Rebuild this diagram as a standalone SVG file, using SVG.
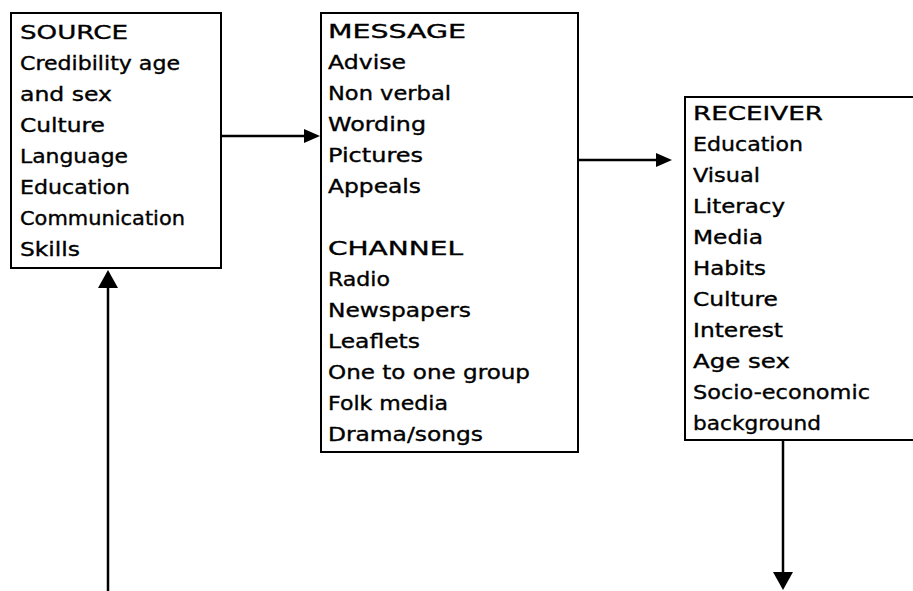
<svg xmlns="http://www.w3.org/2000/svg" width="913" height="591" viewBox="0 0 913 591">
<style>
.box{fill:#fff;stroke:#000;stroke-width:2}
.t{font-family:"DejaVu Sans","Liberation Sans",sans-serif;font-size:19px;fill:#000;stroke:#000;stroke-width:0.35}
.ln{stroke:#000;stroke-width:2.5;fill:none}
.ah{fill:#000}
</style>
<rect width="913" height="591" fill="#fff"/>
<g id="connectors">
<line class="ln" x1="222" y1="136" x2="306" y2="136"/>
<polygon class="ah" points="320,136 304,129 304,143"/>
<line class="ln" x1="578" y1="160" x2="658" y2="160"/>
<polygon class="ah" points="672,160 656,153 656,167"/>
<line class="ln" x1="108" y1="591" x2="108" y2="285"/>
<polygon class="ah" points="108,270 98,288 118,288"/>
<line class="ln" x1="783" y1="440" x2="783" y2="574"/>
<polygon class="ah" points="783,590 773,572 793,572"/>
</g>
<g id="source">
<rect class="box" x="11" y="13" width="210" height="255"/>
<text class="t" x="20" y="39" textLength="108" lengthAdjust="spacingAndGlyphs">SOURCE</text>
<text class="t" x="20" y="70" textLength="160" lengthAdjust="spacingAndGlyphs">Credibility age</text>
<text class="t" x="20" y="101" textLength="92" lengthAdjust="spacingAndGlyphs">and sex</text>
<text class="t" x="20" y="132" textLength="85" lengthAdjust="spacingAndGlyphs">Culture</text>
<text class="t" x="20" y="163" textLength="108" lengthAdjust="spacingAndGlyphs">Language</text>
<text class="t" x="20" y="194" textLength="110" lengthAdjust="spacingAndGlyphs">Education</text>
<text class="t" x="20" y="225" textLength="165" lengthAdjust="spacingAndGlyphs">Communication</text>
<text class="t" x="20" y="256" textLength="60" lengthAdjust="spacingAndGlyphs">Skills</text>
</g>
<g id="message">
<rect class="box" x="321" y="13" width="257" height="439"/>
<text class="t" x="328" y="38" textLength="138" lengthAdjust="spacingAndGlyphs">MESSAGE</text>
<text class="t" x="328" y="69" textLength="78" lengthAdjust="spacingAndGlyphs">Advise</text>
<text class="t" x="328" y="100" textLength="123" lengthAdjust="spacingAndGlyphs">Non verbal</text>
<text class="t" x="328" y="131" textLength="98" lengthAdjust="spacingAndGlyphs">Wording</text>
<text class="t" x="328" y="162" textLength="95" lengthAdjust="spacingAndGlyphs">Pictures</text>
<text class="t" x="328" y="193" textLength="93" lengthAdjust="spacingAndGlyphs">Appeals</text>
<text class="t" x="328" y="255" textLength="135" lengthAdjust="spacingAndGlyphs">CHANNEL</text>
<text class="t" x="328" y="286" textLength="62" lengthAdjust="spacingAndGlyphs">Radio</text>
<text class="t" x="328" y="317" textLength="143" lengthAdjust="spacingAndGlyphs">Newspapers</text>
<text class="t" x="328" y="348" textLength="92" lengthAdjust="spacingAndGlyphs">Leaflets</text>
<text class="t" x="328" y="379" textLength="202" lengthAdjust="spacingAndGlyphs">One to one group</text>
<text class="t" x="328" y="410" textLength="120" lengthAdjust="spacingAndGlyphs">Folk media</text>
<text class="t" x="328" y="441" textLength="155" lengthAdjust="spacingAndGlyphs">Drama/songs</text>
</g>
<g id="receiver">
<rect class="box" x="685" y="97" width="240" height="343"/>
<text class="t" x="693" y="120" textLength="130" lengthAdjust="spacingAndGlyphs">RECEIVER</text>
<text class="t" x="693" y="151" textLength="110" lengthAdjust="spacingAndGlyphs">Education</text>
<text class="t" x="693" y="182" textLength="67" lengthAdjust="spacingAndGlyphs">Visual</text>
<text class="t" x="693" y="213" textLength="92" lengthAdjust="spacingAndGlyphs">Literacy</text>
<text class="t" x="693" y="244" textLength="70" lengthAdjust="spacingAndGlyphs">Media</text>
<text class="t" x="693" y="275" textLength="73" lengthAdjust="spacingAndGlyphs">Habits</text>
<text class="t" x="693" y="306" textLength="85" lengthAdjust="spacingAndGlyphs">Culture</text>
<text class="t" x="693" y="337" textLength="90" lengthAdjust="spacingAndGlyphs">Interest</text>
<text class="t" x="693" y="368" textLength="97" lengthAdjust="spacingAndGlyphs">Age sex</text>
<text class="t" x="693" y="399" textLength="177" lengthAdjust="spacingAndGlyphs">Socio-economic</text>
<text class="t" x="693" y="430" textLength="128" lengthAdjust="spacingAndGlyphs">background</text>
</g>
</svg>
